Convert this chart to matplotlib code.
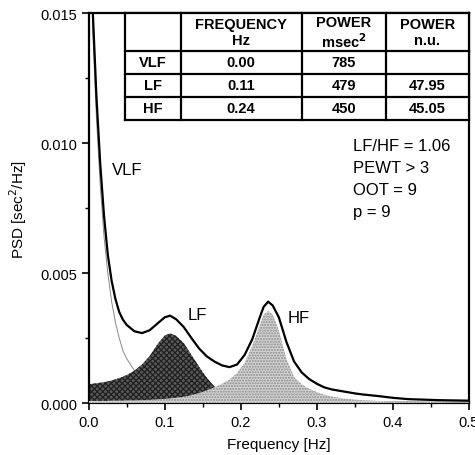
import numpy as np
import matplotlib.pyplot as plt
from matplotlib.lines import Line2D

plt.rcParams['font.family'] = ['Liberation Sans', 'DejaVu Sans']

# Frequency grid [Hz] and spectra [sec^2/Hz]
freq = [0.000, 0.005, 0.010, 0.015, 0.020, 0.025, 0.030, 0.035, 0.040, 0.045,
        0.050, 0.060, 0.070, 0.080, 0.090, 0.100, 0.107, 0.115, 0.125, 0.135,
        0.145, 0.155, 0.165, 0.175, 0.185, 0.195, 0.205, 0.215, 0.225, 0.230,
        0.236, 0.242, 0.250, 0.260, 0.270, 0.280, 0.290, 0.300, 0.310, 0.320,
        0.330, 0.340, 0.350, 0.360, 0.380, 0.400, 0.420, 0.440, 0.460, 0.480,
        0.500]

psd_total = [0.0240, 0.0152, 0.0118, 0.0092, 0.0072, 0.0057, 0.0047, 0.0040, 0.0035, 0.0032,
             0.00300, 0.00276, 0.00269, 0.00280, 0.00305, 0.00330, 0.00336, 0.00322, 0.00292, 0.00250,
             0.00210, 0.00180, 0.00160, 0.00145, 0.00138, 0.00148, 0.00185, 0.00245, 0.00330, 0.00370,
             0.00390, 0.00375, 0.00330, 0.00235, 0.00160, 0.00118, 0.00092, 0.00074, 0.00060, 0.00052,
             0.00047, 0.00042, 0.00037, 0.00033, 0.00027, 0.00020, 0.00015, 0.00013, 0.00011, 0.00010,
             0.00009]

psd_vlf = [0.0230, 0.0144, 0.0110, 0.0084, 0.0064, 0.0050, 0.0039, 0.0031, 0.0025, 0.0020,
           0.0017, 0.00125, 0.00095, 0.00075, 0.00060, 0.00050, 0.00045, 0.00040, 0.00035, 0.00030,
           0.00026, 0.00023, 0.00020, 0.00018, 0.00016, 0.00014, 0.00013, 0.00012, 0.00011, 0.00010,
           0.00010, 0.00009, 0.00009, 0.00008, 0.00008, 0.00007, 0.00007, 0.00006, 0.00006, 0.00006,
           0.00005, 0.00005, 0.00005, 0.00005, 0.00004, 0.00004, 0.00004, 0.00003, 0.00003, 0.00003,
           0.00003]

psd_lf = [0.00073, 0.00074, 0.00076, 0.00078, 0.00080, 0.00083, 0.00087, 0.00091, 0.00096, 0.00101,
          0.00108, 0.00124, 0.00148, 0.00180, 0.00225, 0.00260, 0.00268, 0.00258, 0.00230, 0.00185,
          0.00140, 0.00098, 0.00064, 0.00042, 0.00030, 0.00024, 0.00020, 0.00017, 0.00015, 0.00014,
          0.00013, 0.00012, 0.00011, 0.00010, 0.00009, 0.00009, 0.00008, 0.00008, 0.00007, 0.00007,
          0.00006, 0.00006, 0.00006, 0.00005, 0.00005, 0.00004, 0.00004, 0.00004, 0.00003, 0.00003,
          0.00003]

psd_hf = [0.00008, 0.00008, 0.00008, 0.00008, 0.00008, 0.00008, 0.00009, 0.00009, 0.00009, 0.00009,
          0.00010, 0.00010, 0.00011, 0.00012, 0.00014, 0.00016, 0.00018, 0.00020, 0.00024, 0.00030,
          0.00038, 0.00048, 0.00060, 0.00074, 0.00090, 0.00115, 0.00155, 0.00220, 0.00300, 0.00340,
          0.00355, 0.00340, 0.00280, 0.00170, 0.00100, 0.00072, 0.00055, 0.00042, 0.00032, 0.00025,
          0.00020, 0.00016, 0.00013, 0.00011, 0.00008, 0.00006, 0.00005, 0.00004, 0.00004, 0.00003,
          0.00003]

# Table contents
table_header = ['', 'FREQUENCY\nHz', 'POWER\nmsec$^\\mathbf{2}$', 'POWER\nn.u.']
table_rows = [['VLF', '0.00', '785', ''],
              ['LF', '0.11', '479', '47.95'],
              ['HF', '0.24', '450', '45.05']]
info_lines = ['LF/HF = 1.06', 'PEWT > 3', 'OOT = 9', 'p = 9']

fig = plt.figure(figsize=(4.75, 4.56), dpi=100)
ax = fig.add_axes([0.187, 0.114, 0.800, 0.855])

# Components
ax.plot(freq, psd_vlf, color='#888888', lw=0.7, zorder=1)
ax.fill_between(freq, 0, psd_lf, facecolor='#5c5c5c', edgecolor='#222222',
                hatch='xxxxxx', linewidth=0, zorder=2)
ax.fill_between(freq, 0, psd_hf, facecolor='#d4d4d4', edgecolor='#8a8a8a',
                hatch='......', linewidth=0, zorder=3)
ax.plot(freq, psd_total, color='black', lw=1.6, zorder=4)

ax.set_xlim(0, 0.5)
ax.set_ylim(0, 0.015)
ax.set_xticks([0.0, 0.1, 0.2, 0.3, 0.4, 0.5])
ax.set_xticklabels(['0.0', '0.1', '0.2', '0.3', '0.4', '0.5'])
ax.set_yticks([0.0, 0.005, 0.010, 0.015])
ax.set_yticklabels(['0.000', '0.005', '0.010', '0.015'])
ax.set_xticks(np.arange(0.05, 0.5, 0.1), minor=True)
ax.set_yticks([0.0025, 0.0075, 0.0125], minor=True)
ax.tick_params(which='major', direction='out', length=5, width=1.2, labelsize=10.5)
ax.tick_params(which='minor', direction='out', length=3, width=1.0)
for sp in ax.spines.values():
    sp.set_linewidth(1.6)

ax.set_xlabel('Frequency [Hz]', fontsize=11, labelpad=6)
ax.set_ylabel('PSD [sec$^2$/Hz]', fontsize=11, labelpad=8)

# Peak labels
ax.text(0.030, 0.0090, 'VLF', fontsize=12, va='center', ha='left')
ax.text(0.130, 0.0034, 'LF', fontsize=12, va='center', ha='left')
ax.text(0.262, 0.0033, 'HF', fontsize=12, va='center', ha='left')

for i, line in enumerate(info_lines):
    ax.text(0.347, 0.0099 - i * 0.00085, line, fontsize=12, va='center', ha='left')

# Table drawn in axes coordinates
col_edges = [0.095, 0.242, 0.560, 0.782, 1.0]
row_edges = [1.0, 0.903, 0.844, 0.785, 0.726]
ax.add_patch(plt.Rectangle((col_edges[0], row_edges[-1]), col_edges[-1] - col_edges[0],
                           row_edges[0] - row_edges[-1], transform=ax.transAxes,
                           facecolor='white', edgecolor='none', zorder=5, clip_on=False))
for xe in col_edges:
    ax.add_line(Line2D([xe, xe], [row_edges[-1], row_edges[0]], transform=ax.transAxes,
                       color='black', lw=1.6, zorder=6, clip_on=False))
for ye in row_edges:
    ax.add_line(Line2D([col_edges[0], col_edges[-1]], [ye, ye], transform=ax.transAxes,
                       color='black', lw=1.6, zorder=6, clip_on=False))

all_rows = [table_header] + table_rows
for r, row in enumerate(all_rows):
    yc = (row_edges[r] + row_edges[r + 1]) / 2
    for c, txt in enumerate(row):
        xc = (col_edges[c] + col_edges[c + 1]) / 2
        ax.text(xc, yc, txt, transform=ax.transAxes, ha='center', va='center',
                fontsize=10.5, fontweight='bold', linespacing=1.15, zorder=7)

plt.savefig('out.png', dpi=100)
